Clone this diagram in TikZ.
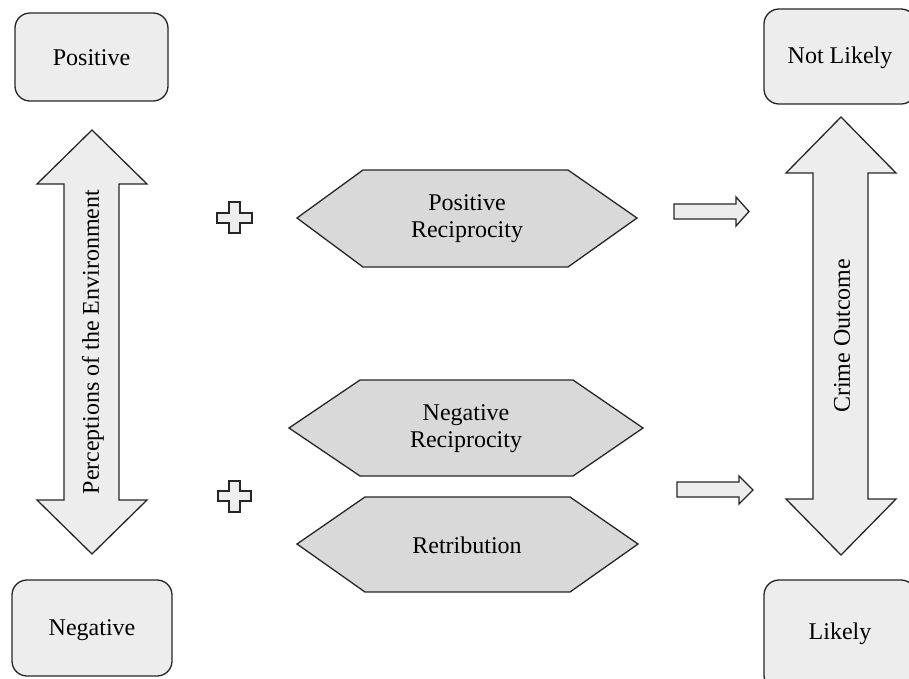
\documentclass[tikz,border=0pt]{standalone}
\usepackage{fontspec}
\setmainfont{Liberation Serif}
\begin{document}
\begin{tikzpicture}[x=1pt,y=-1pt,
  lw/.style={line width=1.3pt,draw=black!85},
  endbox/.style={lw,fill=black!7,rounded corners=15pt},
  hexa/.style={lw,fill=black!15},
  bigarrow/.style={lw,fill=black!7},
  smallarrow/.style={lw,fill=black!7},
  plussign/.style={line width=1.1pt,draw=black!85,fill=black!7},
  lbl/.style={font=\fontsize{24}{27}\selectfont,align=center,inner sep=0pt}]
\useasboundingbox (0,0) rectangle (909,678);
% end boxes
\draw[endbox] (15,13) rectangle (168,101);
\node[lbl] (pos) at (91.5,58) {Positive};
\draw[endbox] (12,580) rectangle (172,676);
\node[lbl] (neg) at (92,630) {Negative};
\draw[endbox] (764,9) rectangle (916,104);
\node[lbl] (notlikely) at (840,58) {Not Likely};
\draw[endbox] (764,580) rectangle (916,690);
\node[lbl] (likely) at (840,634) {Likely};
% vertical double arrows
\draw[bigarrow] (92,130) -- (147,184) -- (119,184) -- (119,500) -- (147,500) -- (92,554)
  -- (37,500) -- (64,500) -- (64,184) -- (37,184) -- cycle;
\node[lbl,rotate=90] (perc) at (93,342) {Perceptions of the Environment};
\draw[bigarrow] (841,117) -- (896,173) -- (868,173) -- (868,499) -- (896,499) -- (841,555)
  -- (786,499) -- (813,499) -- (813,173) -- (786,173) -- cycle;
\node[lbl,rotate=90] (crime) at (842,336) {Crime Outcome};
% hexagons
\draw[hexa] (297,218) -- (363,170) -- (568,170) -- (637,218) -- (568,267) -- (363,267) -- cycle;
\node[lbl] (posrec) at (467,219) {Positive\\Reciprocity};
\draw[hexa] (289,428) -- (360,380) -- (573,380) -- (643,428) -- (573,476) -- (360,476) -- cycle;
\node[lbl] (negrec) at (466,429) {Negative\\Reciprocity};
\draw[hexa] (297,544) -- (365,497) -- (570,497) -- (638,544) -- (570,592) -- (365,592) -- cycle;
\node[lbl] (retr) at (467,545) {Retribution};
% plus signs
\draw[plussign] (229,202) -- (240,202) -- (240,213) -- (252,213) -- (252,223) -- (240,223) -- (240,233)
  -- (229,233) -- (229,223) -- (217,223) -- (217,213) -- (229,213) -- cycle;
\draw[plussign] (229,481) -- (240,481) -- (240,491) -- (251,491) -- (251,501) -- (240,501) -- (240,512)
  -- (229,512) -- (229,501) -- (218,501) -- (218,491) -- (229,491) -- cycle;
% small right arrows
\draw[smallarrow] (674,204) -- (736,204) -- (736,197) -- (749,211.5) -- (736,226) -- (736,219) -- (674,219) -- cycle;
\draw[smallarrow] (677,482) -- (739,482) -- (739,476) -- (753,490) -- (739,504) -- (739,497) -- (677,497) -- cycle;
\end{tikzpicture}
\end{document}
